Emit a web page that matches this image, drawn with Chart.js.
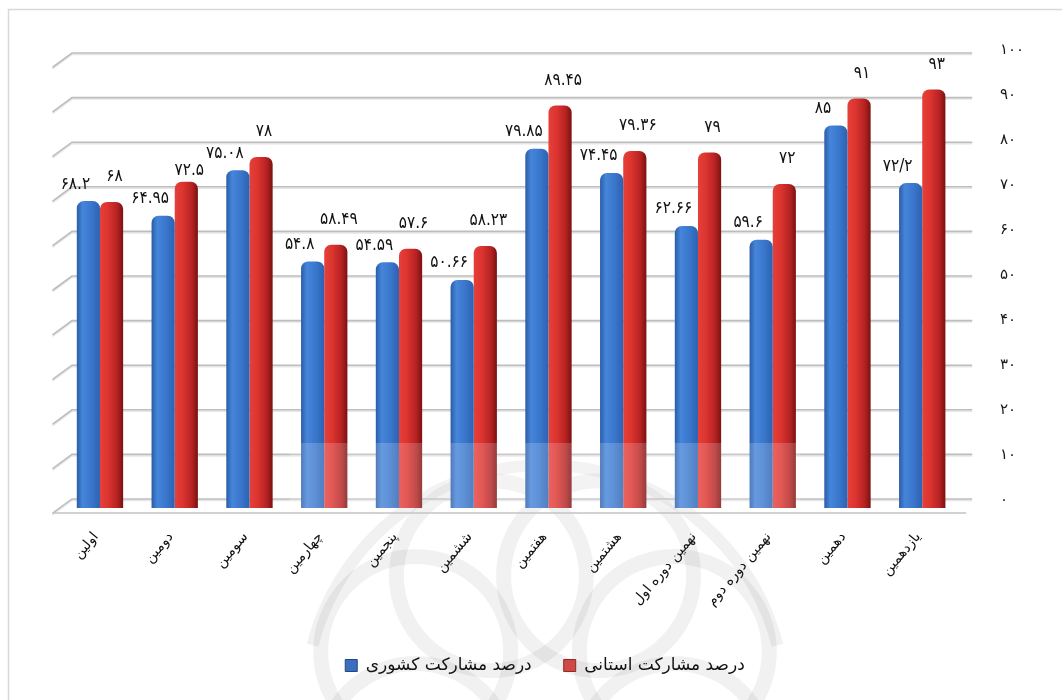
<!DOCTYPE html>
<html>
<head>
<meta charset="utf-8">
<script src="https://cdn.jsdelivr.net/npm/chart.js@4.4.1/dist/chart.umd.min.js"></script>
<style>
  html, body { margin: 0; padding: 0; background: #ffffff; }
  #wrap { width: 1062px; height: 700px; position: relative; }
</style>
</head>
<body>
<div id="wrap"><canvas id="turnout" width="1062" height="700"></canvas></div>
<script>
// Election rounds
const categories = ['اولین', 'دومین', 'سومین', 'چهارمین', 'پنجمین', 'ششمین', 'هفتمین', 'هشتمین', 'نهمین دوره اول', 'نهمین دوره دوم', 'دهمین', 'یازدهمین'];

// Turnout percentages
const nationalTurnout   = [68.2, 64.95, 75.08, 54.8, 54.59, 50.66, 79.85, 74.45, 62.66, 59.6, 85, 72.2];
const provincialTurnout = [68, 72.5, 78, 58.49, 57.6, 58.23, 89.45, 79.36, 79, 72, 91, 93];

// Value labels as printed above the bars
const nationalLabels   = ['۶۸.۲', '۶۴.۹۵', '۷۵.۰۸', '۵۴.۸', '۵۴.۵۹', '۵۰.۶۶', '۷۹.۸۵', '۷۴.۴۵', '۶۲.۶۶', '۵۹.۶', '۸۵', '۷۲/۲'];
const provincialLabels = ['۶۸', '۷۲.۵', '۷۸', '۵۸.۴۹', '۵۷.۶', '۵۸.۲۳', '۸۹.۴۵', '۷۹.۳۶', '۷۹', '۷۲', '۹۱', '۹۳'];

const seriesNames = ['درصد مشارکت کشوری', 'درصد مشارکت استانی'];

// Value axis
const yTickValues = [0, 10, 20, 30, 40, 50, 60, 70, 80, 90, 100];
const yTickLabels = ['۰', '۱۰', '۲۰', '۳۰', '۴۰', '۵۰', '۶۰', '۷۰', '۸۰', '۹۰', '۱۰۰'];

const FONT = "'DejaVu Sans', 'Noto Sans', sans-serif";
const FONT_NARROW = "'DejaVu Sans Condensed', 'DejaVu Sans', sans-serif";
const BLUE = '#3b78cf';
const RED = '#d8322f';

// Back wall of the 3D box sits slightly above/behind the bar front plane
function wallY(frontY) { return 0.9911 * frontY - 4.5; }

const backdrop = {
  id: 'backdrop',
  beforeDraw(chart) {
    const ctx = chart.ctx;
    ctx.save();
    ctx.fillStyle = '#ffffff';
    ctx.fillRect(0, 0, chart.width, chart.height);
    // faint rosette emblem behind the lower part of the chart
    ctx.strokeStyle = 'rgba(0,0,0,0.055)';
    ctx.lineWidth = 15;
    const cx = 545, cy = 705;
    for (let i = 0; i < 8; i++) {
      const a = i * Math.PI / 4 + Math.PI / 8;
      ctx.beginPath();
      ctx.arc(cx + Math.cos(a) * 140, cy + Math.sin(a) * 140, 95, 0, Math.PI * 2);
      ctx.stroke();
    }
    ctx.beginPath();
    ctx.arc(cx, cy, 240, Math.PI * 1.08, Math.PI * 1.92);
    ctx.lineWidth = 12;
    ctx.stroke();
    // frame
    ctx.strokeStyle = '#d9d9d9';
    ctx.lineWidth = 1.5;
    ctx.beginPath();
    ctx.moveTo(8.5, chart.height);
    ctx.lineTo(8.5, 9.5);
    ctx.lineTo(chart.width, 9.5);
    ctx.stroke();
    ctx.restore();
  }
};

const wall3d = {
  id: 'wall3d',
  beforeDatasetsDraw(chart) {
    const ctx = chart.ctx;
    const y = chart.scales.y;
    const area = chart.chartArea;
    const xl = 53, xb = 72, xr = area.right + 12;
    ctx.save();
    yTickValues.forEach((v, i) => {
      const yb = wallY(y.getPixelForValue(v));
      ctx.lineCap = 'round';
      ctx.strokeStyle = '#e6e6e6';
      ctx.lineWidth = 1.5;
      ctx.beginPath();
      ctx.moveTo(xl, yb + 15.5); ctx.lineTo(xb, yb + 1.5); ctx.lineTo(xr, yb + 1.5);
      ctx.stroke();
      ctx.strokeStyle = '#bdbdbd';
      ctx.lineWidth = 1.6;
      ctx.beginPath();
      ctx.moveTo(xl, yb + 14); ctx.lineTo(xb, yb); ctx.lineTo(xr, yb);
      ctx.stroke();
      // tick label
      ctx.fillStyle = '#1a1a1a';
      ctx.font = '15px ' + FONT;
      ctx.textAlign = 'left';
      ctx.textBaseline = 'middle';
      ctx.fillText(yTickLabels[i], 1000, y.getPixelForValue(v) - 8);
    });
    // front edge of the floor
    const yf = y.getPixelForValue(0) + 5;
    ctx.strokeStyle = '#c4c4c4';
    ctx.lineWidth = 1.6;
    ctx.beginPath();
    ctx.moveTo(xl, yf); ctx.lineTo(xr - 6, yf);
    ctx.stroke();
    ctx.restore();

    // cylinder-like shading on every bar
    chart.data.datasets.forEach((ds, di) => {
      const meta = chart.getDatasetMeta(di);
      meta.data.forEach(el => {
        const p = el.getProps(['x', 'width'], true);
        const g = ctx.createLinearGradient(p.x - p.width / 2, 0, p.x + p.width / 2, 0);
        if (di === 0) {
          g.addColorStop(0, '#2b5ca6');
          g.addColorStop(0.25, '#4585da');
          g.addColorStop(0.6, '#3b78cd');
          g.addColorStop(1, '#2c62b2');
        } else {
          g.addColorStop(0, '#e6403b');
          g.addColorStop(0.35, '#dc342f');
          g.addColorStop(0.75, '#b42222');
          g.addColorStop(1, '#7a1111');
        }
        el.options.backgroundColor = g;
      });
    });
  }
};

// Value labels: national ones up-left of the blue bar, provincial ones above the red bar.
// A provincial label that would run into the next round's national label drops
// down to sit just over its own bar.
const valueLabels = {
  id: 'valueLabels',
  afterDatasetsDraw(chart) {
    const ctx = chart.ctx;
    const y = chart.scales.y;
    ctx.save();
    // light haze of the emblem over the bar feet
    ctx.fillStyle = 'rgba(255,255,255,0.18)';
    ctx.fillRect(290, 443, 510, y.getPixelForValue(0) - 443);

    ctx.fillStyle = '#111111';
    ctx.font = '17px ' + FONT_NARROW;
    ctx.textAlign = 'center';
    ctx.textBaseline = 'middle';
    const H = 15;
    const blueMeta = chart.getDatasetMeta(0).data;
    const redMeta = chart.getDatasetMeta(1).data;

    const blueBoxes = blueMeta.map((el, i) => {
      const p = el.getProps(['x', 'y'], true);
      const w = ctx.measureText(nationalLabels[i]).width;
      return { text: nationalLabels[i], cx: p.x - 13, cy: p.y - 17, w };
    });
    const redBoxes = redMeta.map((el, i) => {
      const p = el.getProps(['x', 'y'], true);
      const w = ctx.measureText(provincialLabels[i]).width;
      return { text: provincialLabels[i], cx: p.x + 3, cy: p.y - 25, w, top: p.y };
    });
    const overlaps = (a, b) =>
      Math.abs(a.cx - b.cx) < (a.w + b.w) / 2 + 2 && Math.abs(a.cy - b.cy) < H;
    redBoxes.forEach((r, i) => {
      const nextBlue = blueBoxes[i + 1];
      if (nextBlue && overlaps(r, nextBlue)) r.cy = r.top - 11;
    });
    blueBoxes.concat(redBoxes).forEach(b => ctx.fillText(b.text, b.cx, b.cy));
    ctx.restore();
  }
};

const LAYOUT_BOTTOM = 16;
const FRONT_BOTTOM = 508;

new Chart(document.getElementById('turnout'), {
  type: 'bar',
  data: {
    labels: categories,
    datasets: [
      {
        label: seriesNames[0],
        data: nationalTurnout,
        backgroundColor: () => BLUE,
        borderRadius: { topLeft: 7, topRight: 7 },
        borderSkipped: 'bottom',
        categoryPercentage: 0.62,
        barPercentage: 1.0
      },
      {
        label: seriesNames[1],
        data: provincialTurnout,
        backgroundColor: () => RED,
        borderRadius: { topLeft: 7, topRight: 7 },
        borderSkipped: 'bottom',
        categoryPercentage: 0.62,
        barPercentage: 1.0
      }
    ]
  },
  options: {
    responsive: false,
    animation: false,
    devicePixelRatio: 1,
    layout: { padding: { left: 28, right: 0, top: 58, bottom: LAYOUT_BOTTOM } },
    scales: {
      x: {
        grid: { display: false },
        border: { display: false },
        ticks: {
          autoSkip: false,
          minRotation: 50,
          maxRotation: 50,
          padding: 13,
          labelOffset: -4,
          color: '#111111',
          font: { family: FONT, size: 14 }
        },
        afterFit(s) {
          const legendH = s.chart.legend ? s.chart.legend.height : 0;
          s.height = s.chart.height - FRONT_BOTTOM - LAYOUT_BOTTOM - legendH;
        }
      },
      y: {
        position: 'right',
        min: 0,
        max: 100,
        grid: { display: false },
        border: { display: false },
        ticks: { display: false },
        afterFit(s) { s.width = 102.4; }
      },
      yLeft: {
        type: 'linear',
        axis: 'y',
        position: 'left',
        grid: { display: false },
        border: { display: false },
        ticks: { display: false },
        afterFit(s) { s.width = 34.6; }
      }
    },
    plugins: {
      tooltip: { enabled: false },
      legend: {
        position: 'bottom',
        labels: {
          color: '#111111',
          font: { family: FONT, size: 17 },
          boxWidth: 12,
          boxHeight: 12,
          padding: 32,
          generateLabels(chart) {
            const items = Chart.defaults.plugins.legend.labels.generateLabels(chart);
            items.forEach((it, i) => {
              it.fillStyle = i === 0 ? '#3a6fc0' : '#cf4a46';
              it.strokeStyle = i === 0 ? '#24487e' : '#8e2a27';
              it.lineWidth = 1;
            });
            return items;
          }
        }
      }
    }
  },
  plugins: [backdrop, wall3d, valueLabels]
});
</script>
</body>
</html>
